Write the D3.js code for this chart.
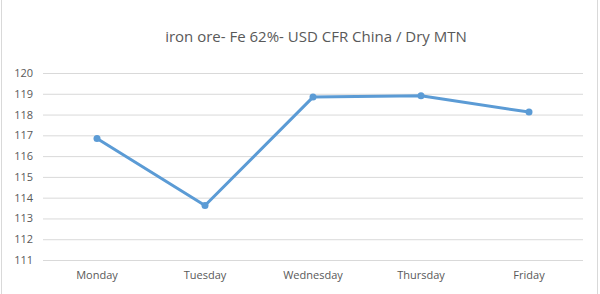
<!DOCTYPE html>
<html>
<head>
<meta charset="utf-8">
<script src="https://cdn.jsdelivr.net/npm/d3@7"></script>
<style>
  body { margin: 0; background: #fff; }
  svg { display: block; font-family: "Open Sans", sans-serif; }
</style>
</head>
<body>
<svg></svg>
<script>
'use strict';

var days = ['Monday', 'Tuesday', 'Wednesday', 'Thursday', 'Friday'];
var prices = [116.85, 113.62, 118.84, 118.9, 118.12];
var yTicks = [111, 112, 113, 114, 115, 116, 117, 118, 119, 120];
var title = 'iron ore- Fe 62%- USD CFR China / Dry MTN';

var width = 600, height = 294;
var margin = {top: 73, right: 17, bottom: 34, left: 43};
var fontFamily = '"Open Sans", sans-serif';

var svg = d3.select('svg')
    .attr('width', width)
    .attr('height', height);

// chart frame
svg.append('rect')
    .attr('x', 1.5).attr('y', -2)
    .attr('width', width - 4).attr('height', height + 4)
    .attr('fill', '#fff')
    .attr('stroke', '#d9d9d9');

var x = d3.scaleBand()
    .domain(days)
    .range([margin.left, width - margin.right]);

var y = d3.scaleLinear()
    .domain([111, 120])
    .range([height - margin.bottom, margin.top]);

svg.append('text')
    .attr('x', 316)
    .attr('y', 42)
    .attr('text-anchor', 'middle')
    .attr('fill', '#595959')
    .style('font-size', '15px')
    .text(title);

// gridlines + y labels
var yAxis = svg.append('g')
    .attr('transform', 'translate(' + margin.left + ',0)')
    .call(d3.axisLeft(y).tickValues(yTicks).tickSize(-(width - margin.left - margin.right)).tickPadding(10));
yAxis.select('.domain').remove();
yAxis.selectAll('line').attr('stroke', '#d9d9d9');
yAxis.selectAll('text').attr('fill', '#595959').style('font-size', '11px')
    .style('font-family', fontFamily);

var xAxis = svg.append('g')
    .attr('transform', 'translate(0,' + (height - margin.bottom) + ')')
    .call(d3.axisBottom(x).tickSize(0).tickPadding(11));
xAxis.select('.domain').remove();
xAxis.selectAll('text').attr('fill', '#595959').style('font-size', '11px')
    .style('font-family', fontFamily);

var line = d3.line()
    .x(function (d, i) { return x(days[i]) + x.bandwidth() / 2; })
    .y(function (d) { return y(d); });

svg.append('path')
    .datum(prices)
    .attr('d', line)
    .attr('fill', 'none')
    .attr('stroke', '#5b9bd5')
    .attr('stroke-width', 3)
    .attr('stroke-linejoin', 'round');

svg.selectAll('.dot')
    .data(prices)
    .enter().append('circle')
    .attr('class', 'dot')
    .attr('cx', function (d, i) { return x(days[i]) + x.bandwidth() / 2; })
    .attr('cy', function (d) { return y(d); })
    .attr('r', 3.5)
    .attr('fill', '#5b9bd5');
</script>
</body>
</html>
